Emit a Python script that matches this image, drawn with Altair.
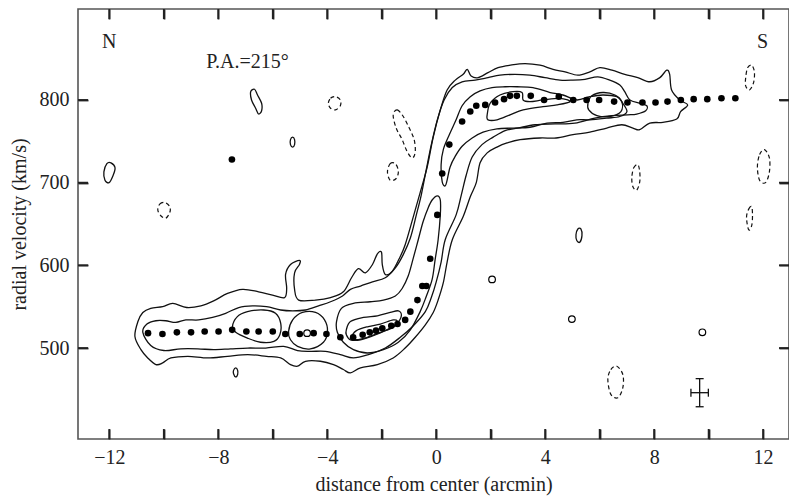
import altair as alt
import pandas as pd

# ---------------- data (arcmin, km/s) ----------------
dot_d = [-10.58, -10.05, -9.52, -9.0, -8.5, -7.99, -7.49, -6.97, -6.52, -6.0, -5.54, -5.01,
         -4.5, -4.03, -3.52, -3.05, -2.70, -2.44, -2.21, -1.98, -1.65, -1.42, -1.14, -0.95,
         -0.69, -0.51, -0.36, -0.22, 0.04, 0.22, 0.48, 0.95, 1.25, 1.47, 1.80, 2.16, 2.49,
         2.71, 2.96, 3.47, 3.96, 4.50, 5.03, 5.52, 5.98, 6.53, 7.02, 7.57, 8.05, 8.49, 8.98,
         9.45, 9.95, 10.47, 10.98, -7.5]
dot_v = [518, 517, 519, 519, 520, 520, 522, 520, 520, 520, 517, 517,
         518, 517, 513, 513, 516, 519, 521, 524, 527, 529, 534, 544,
         558, 575, 575, 608, 661, 711, 746, 774, 786, 793, 794, 797, 801,
         805, 805, 805, 800, 804, 800, 800, 800, 798, 797, 797, 797, 798, 800,
         801, 801, 802, 802, 728]

open_d = [-4.74, 2.05, 4.98, 9.77]
open_v = [518, 583, 535, 519]

err_d = [9.67]
err_v = [446]
err_dlo = [9.35]
err_dhi = [9.99]
err_vlo = [429]
err_vhi = [463]

# outer contour
c1_d = [-11.06, -10.95, -10.77, -10.48, -10.04, -9.67, -9.16, -8.64, -8.17, -7.66, -7.11, -6.52,
        -6.01, -5.57, -5.49, -5.53, -5.35, -5.02, -5.02, -5.20, -5.20, -5.05, -4.43, -3.88,
        -3.41, -3.11, -2.86, -2.60, -2.34, -2.16, -2.01, -1.98, -1.87, -1.61, -1.36, -1.14,
        -0.84, -0.59, -0.33, -0.11, 0.15, 0.40, 0.70, 0.99, 1.14, 1.28, 1.54, 1.90, 2.27,
        2.71, 3.26, 3.81, 4.29, 4.73, 5.20, 5.64, 6.01, 6.45, 6.92, 7.40, 7.84, 8.21, 8.46,
        8.57, 8.64, 8.94, 9.23, 8.97, 8.83, 8.32, 7.84, 7.47, 7.22, 6.81, 6.26, 5.64, 5.02,
        4.40, 3.81, 3.08, 2.60, 2.23, 1.87, 1.61, 1.47, 1.25, 0.99, 0.59, 0.40, 0.26, 0.07,
        -0.11, -0.40, -0.77, -1.14, -1.58, -2.16, -2.78, -3.15, -3.41, -3.77, -4.25, -4.80,
        -5.09, -5.35, -5.71, -6.23, -6.92, -7.66, -8.39, -9.12, -9.74, -10.04, -10.29,
        -10.59, -10.84]
c1_v = [514, 532, 543, 548, 550, 554, 549, 551, 557, 566, 571, 568,
        564, 561, 572, 589, 601, 606, 601, 591, 571, 558, 558, 561,
        568, 585, 596, 591, 601, 614, 616, 601, 589, 593, 608, 625,
        659, 688, 719, 755, 788, 812, 824, 831, 837, 829, 827, 833, 839,
        842, 844, 842, 837, 834, 830, 834, 839, 836, 831, 827, 822, 827, 836,
        831, 812, 800, 794, 786, 777, 773, 772, 764, 766, 770, 766, 761, 758,
        754, 754, 752, 748, 743, 736, 724, 700, 683, 659, 631, 604, 579, 558,
        543, 528, 513, 500, 488, 480, 476, 470, 474, 480, 484, 484,
        478, 480, 488, 490, 492, 490, 488, 490, 488, 482, 480,
        488, 498]

# second contour
c2_d = [-10.77, -10.62, -10.29, -9.93, -9.56, -9.19, -8.72, -8.21, -7.73, -7.25, -6.74, -6.23,
        -5.71, -5.27, -4.80, -4.32, -3.88, -3.44, -3.15, -2.78, -2.34, -1.87, -1.50, -1.21,
        -0.95, -0.73, -0.55, -0.37, -0.18, 0.04, 0.29, 0.59, 0.95, 1.43, 1.90, 2.34, 2.89,
        3.44, 3.99, 4.54, 5.02, 5.46, 5.93, 6.37, 6.74, 6.92, 7.11, 7.47, 7.73, 7.69, 7.36,
        7.03, 6.45, 5.82, 5.09, 4.36, 3.63, 3.00, 2.53, 2.09, 1.68, 1.32, 1.10, 0.92, 0.73,
        0.33, 0.18, 0.0, -0.18, -0.40, -0.84, -1.32, -1.87, -2.49, -3.04, -3.52, -4.07,
        -4.62, -5.09, -5.60, -6.26, -6.92, -7.55, -8.17, -8.75, -9.38, -10.0, -10.48]
c2_v = [519, 529, 533, 533, 531, 534, 534, 537, 542, 549, 551, 550,
        546, 545, 546, 551, 556, 563, 571, 575, 580, 585, 597, 613,
        633, 661, 685, 715, 746, 776, 800, 815, 822, 824, 827, 830, 831,
        830, 827, 824, 824, 825, 828, 824, 818, 810, 800, 796, 793, 787, 783,
        782, 781, 778, 772, 771, 770, 766, 763, 755, 746, 731, 709, 685, 661,
        631, 604, 580, 561, 544, 527, 513, 500, 492, 488, 492, 496,
        496, 497, 502, 500, 500, 499, 498, 499, 499, 497, 503]

# third level: lower part (cluster + rise) and upper arm
c3a_d = [-3.66, -3.48, -3.04, -2.42, -1.94, -1.50, -1.25, -1.03, -0.84, -0.66, -0.48, -0.29,
         -0.15, 0.04, 0.15, 0.15, 0.07, -0.04, -0.15, -0.37, -0.59, -0.95, -1.39, -1.94,
         -2.53, -3.04, -3.41, -3.63]
c3a_v = [532, 548, 554, 556, 558, 563, 572, 587, 609, 631, 653, 670,
         679, 684, 679, 661, 631, 607, 583, 562, 544, 522, 507, 498,
         494, 498, 507, 519]

c3b_d = [0.22, 0.18, 0.26, 0.48, 0.73, 0.95, 1.25, 1.61, 2.05, 2.53, 2.97, 3.55, 4.18, 4.65,
         5.16, 5.64, 6.12, 6.63, 6.85, 7.00, 6.74, 6.26, 5.64, 5.16, 4.65, 4.07, 3.44, 2.82,
         2.23, 1.72, 1.32, 0.95, 0.70, 0.51, 0.40, 0.33]
c3b_v = [701, 722, 740, 758, 776, 793, 804, 811, 815, 816, 816, 815, 809, 806,
         800, 804, 806, 804, 796, 786, 780, 778, 776, 776, 773, 772, 767, 766,
         765, 761, 754, 744, 732, 719, 703, 696]

# left-arm loops
l3a_d = [-7.48, -7.30, -6.93, -6.33, -5.90, -5.71, -5.74, -5.96, -6.45, -6.93, -7.36]
l3a_v = [526, 538, 544, 546, 542, 530, 516, 508, 507, 512, 519]
l3b_d = [-5.42, -5.27, -4.91, -4.43, -4.10, -3.99, -4.14, -4.62, -5.09, -5.35]
l3b_v = [520, 534, 543, 543, 534, 520, 507, 499, 502, 510]

# inner loops
c4a_d = [-3.30, -3.15, -2.67, -2.16, -1.69, -1.39, -1.28, -1.47, -1.87, -2.31, -2.78, -3.15, -3.30]
c4a_v = [522, 532, 537, 539, 543, 545, 539, 529, 521, 515, 510, 510, 516]
c5a_d = [-3.11, -2.93, -2.49, -2.05, -1.58, -1.43, -1.58, -2.05, -2.53, -2.93]
c5a_v = [513, 521, 526, 529, 534, 532, 525, 519, 513, 510]
c4b_d = [1.87, 1.98, 2.34, 2.82, 3.15, 3.19, 3.44, 3.92, 4.54, 4.91, 4.43, 3.92, 3.19, 2.71, 2.23, 1.90]
c4b_v = [782, 796, 806, 810, 809, 800, 798, 800, 802, 798, 794, 792, 788, 782, 776, 776]
c4c_d = [5.57, 5.71, 6.12, 6.56, 6.81, 6.78, 6.37, 5.90, 5.60]
c4c_v = [796, 805, 809, 806, 798, 786, 780, 781, 788]

# small isolated solid contours
s1_d = [-12.20, -12.09, -11.94, -11.79, -11.87, -12.01, -12.16]
s1_v = [713, 723, 724, 718, 708, 700, 703]
s2_d = [-6.81, -6.67, -6.56, -6.41, -6.41, -6.52, -6.63, -6.78]
s2_v = [810, 813, 806, 796, 787, 783, 790, 800]
s3_d = [-5.35, -5.27, -5.20, -5.20, -5.27, -5.35]
s3_v = [752, 755, 752, 746, 743, 746]
s4_d = [-7.44, -7.36, -7.29, -7.29, -7.36, -7.44]
s4_v = [473, 476, 473, 468, 465, 469]
s5_d = [5.13, 5.20, 5.31, 5.35, 5.27, 5.16]
s5_v = [637, 644, 644, 636, 628, 630]

# dashed (negative) contours
n1_d = [-10.22, -10.15, -9.96, -9.78, -9.78, -9.93, -10.11]
n1_v = [667, 674, 676, 671, 664, 657, 660]
n2_d = [-3.96, -3.88, -3.70, -3.52, -3.52, -3.70, -3.88]
n2_v = [796, 802, 804, 800, 793, 788, 790]
n3_d = [-1.58, -1.43, -1.21, -0.99, -0.81, -0.77, -0.88, -1.06, -1.25, -1.47]
n3_v = [782, 788, 780, 766, 752, 737, 730, 737, 752, 766]
n4_d = [-1.79, -1.69, -1.50, -1.39, -1.47, -1.69]
n4_v = [713, 723, 723, 714, 705, 703]
n5_d = [11.36, 11.43, 11.58, 11.68, 11.65, 11.50, 11.36]
n5_v = [827, 839, 842, 834, 821, 812, 817]
n6_d = [11.79, 11.87, 12.05, 12.23, 12.23, 12.09, 11.87]
n6_v = [719, 734, 740, 730, 713, 700, 703]
n7_d = [11.39, 11.47, 11.58, 11.61, 11.58, 11.47]
n7_v = [658, 668, 671, 660, 648, 643]
n8_d = [7.18, 7.25, 7.40, 7.47, 7.47, 7.36, 7.22]
n8_v = [706, 718, 722, 713, 701, 691, 695]
n9_d = [6.30, 6.41, 6.63, 6.85, 6.85, 6.67, 6.41]
n9_v = [462, 474, 478, 468, 452, 440, 444]

label_text = ["N", "S", "P.A.=215°"]
label_d = [-12.0, 11.98, -6.93]
label_v = [870, 870, 846]

x_ticks = [-12, -10, -8, -6, -4, -2, 0, 2, 4, 6, 8, 10, 12]
y_ticks = [500, 600, 700, 800]

# ---------------- layout / scales ----------------
W, H = 711, 430
TL = 10  # inward tick length in pixels
FONT = "Liberation Serif"
X_DOM = [-13.15, 12.95]
Y_DOM = [390, 910]
xs = alt.Scale(domain=X_DOM, nice=False, zero=False)
ys = alt.Scale(domain=Y_DOM, nice=False, zero=False)

dx_tick = TL * (X_DOM[1] - X_DOM[0]) / W
dy_tick = TL * (Y_DOM[1] - Y_DOM[0]) / H

# ---------------- build tables ----------------
def build(groups):
    rows = []
    for gid, (ds, vs) in enumerate(groups):
        for i, (d, v) in enumerate(zip(ds, vs)):
            rows.append({"d": d, "v": v, "g": gid, "i": i})
    return pd.DataFrame(rows)

solid = build([(c1_d, c1_v), (c2_d, c2_v), (c3a_d, c3a_v), (c3b_d, c3b_v),
               (l3a_d, l3a_v), (l3b_d, l3b_v), (c4a_d, c4a_v), (c5a_d, c5a_v),
               (c4b_d, c4b_v), (c4c_d, c4c_v), (s1_d, s1_v), (s2_d, s2_v),
               (s3_d, s3_v), (s4_d, s4_v), (s5_d, s5_v)])
dashed = build([(n1_d, n1_v), (n2_d, n2_v), (n3_d, n3_v), (n4_d, n4_v), (n5_d, n5_v),
                (n6_d, n6_v), (n7_d, n7_v), (n8_d, n8_v), (n9_d, n9_v)])
dots = pd.DataFrame({"d": dot_d, "v": dot_v})
opens = pd.DataFrame({"d": open_d, "v": open_v})
caps_h = pd.DataFrame({"d": err_d * 2, "v": err_vlo + err_vhi})
caps_v = pd.DataFrame({"d": err_dlo + err_dhi, "v": err_v * 2})
labels = pd.DataFrame({"lab": label_text, "d": label_d, "v": label_v})

seg_rows = [
    {"d": err_d[0], "d2": err_d[0], "v": err_vlo[0], "v2": err_vhi[0]},
    {"d": err_dlo[0], "d2": err_dhi[0], "v": err_v[0], "v2": err_v[0]},
]
segs = pd.DataFrame(seg_rows)

tick_rows = []
for t in x_ticks:
    tick_rows.append({"d": t, "d2": t, "v": Y_DOM[0], "v2": Y_DOM[0] + dy_tick})
    tick_rows.append({"d": t, "d2": t, "v": Y_DOM[1] - dy_tick, "v2": Y_DOM[1]})
for t in y_ticks:
    tick_rows.append({"d": X_DOM[0], "d2": X_DOM[0] + dx_tick, "v": t, "v2": t})
    tick_rows.append({"d": X_DOM[1] - dx_tick, "d2": X_DOM[1], "v": t, "v2": t})
ticks_df = pd.DataFrame(tick_rows)

TICK_COLOR = "#222"
TICK_W = 1.8

main_x = alt.Axis(orient="bottom", offset=-TL, values=x_ticks,
                  labelExpr="datum.value % 4 === 0 ? datum.label : ''",
                  ticks=True, tickSize=TL, tickColor=TICK_COLOR, tickWidth=TICK_W,
                  domain=False, grid=False,
                  labelFont=FONT, labelFontSize=20, labelColor="#222", labelPadding=8,
                  title="distance from center (arcmin)", titleFont=FONT, titleFontSize=20,
                  titleFontWeight="normal", titleColor="#222", titlePadding=7)
main_y = alt.Axis(orient="left", offset=-TL, values=y_ticks,
                  ticks=True, tickSize=TL, tickColor=TICK_COLOR, tickWidth=TICK_W,
                  domain=False, grid=False,
                  labelFont=FONT, labelFontSize=20, labelColor="#222", labelPadding=9,
                  title="radial velocity (km/s)", titleFont=FONT, titleFontSize=20,
                  titleFontWeight="normal", titleColor="#222", titlePadding=10)
top_x = alt.Axis(orient="top", offset=-TL, values=x_ticks, labels=False, domain=False,
                 grid=False, ticks=True, tickSize=TL, tickColor=TICK_COLOR,
                 tickWidth=TICK_W, title=None)
right_y = alt.Axis(orient="right", offset=-TL, values=y_ticks, labels=False, domain=False,
                   grid=False, ticks=True, tickSize=TL, tickColor=TICK_COLOR,
                   tickWidth=TICK_W, title=None)

line_solid = alt.Chart(solid).mark_line(interpolate="cardinal-closed", color="#111",
                                        strokeWidth=1.3).encode(
    x=alt.X("d:Q", scale=xs, axis=main_x),
    y=alt.Y("v:Q", scale=ys, axis=main_y),
    detail="g:N",
    order="i:Q",
)

line_dashed = alt.Chart(dashed).mark_line(interpolate="cardinal-closed", color="#111",
                                          strokeWidth=1.2, strokeDash=[4, 3]).encode(
    x=alt.X("d:Q", scale=xs, axis=top_x),
    y=alt.Y("v:Q", scale=ys, axis=right_y),
    detail="g:N",
    order="i:Q",
)

frame_ticks = alt.Chart(ticks_df).mark_rule(color=TICK_COLOR, strokeWidth=TICK_W).encode(
    x=alt.X("d:Q", scale=xs, axis=None),
    x2="d2:Q",
    y=alt.Y("v:Q", scale=ys, axis=None),
    y2="v2:Q",
)

pts = alt.Chart(dots).mark_circle(size=44, color="#000", opacity=1).encode(
    x=alt.X("d:Q", scale=xs, axis=None),
    y=alt.Y("v:Q", scale=ys, axis=None),
)

open_pts = alt.Chart(opens).mark_point(size=44, shape="circle", filled=True, fill="white",
                                       stroke="#000", strokeWidth=1.2, opacity=1).encode(
    x=alt.X("d:Q", scale=xs, axis=None),
    y=alt.Y("v:Q", scale=ys, axis=None),
)

seg_layer = alt.Chart(segs).mark_rule(color="#111", strokeWidth=1.3).encode(
    x=alt.X("d:Q", scale=xs, axis=None),
    x2="d2:Q",
    y=alt.Y("v:Q", scale=ys, axis=None),
    y2="v2:Q",
)

cap_h = alt.Chart(caps_h).mark_tick(orient="horizontal", size=8, thickness=1.3, color="#111",
                                    opacity=1).encode(
    x=alt.X("d:Q", scale=xs, axis=None),
    y=alt.Y("v:Q", scale=ys, axis=None),
)
cap_v = alt.Chart(caps_v).mark_tick(orient="vertical", size=8, thickness=1.3, color="#111",
                                    opacity=1).encode(
    x=alt.X("d:Q", scale=xs, axis=None),
    y=alt.Y("v:Q", scale=ys, axis=None),
)

txt = alt.Chart(labels).mark_text(font=FONT, fontSize=20, color="#222").encode(
    x=alt.X("d:Q", scale=xs, axis=None),
    y=alt.Y("v:Q", scale=ys, axis=None),
    text="lab:N",
)

chart = alt.layer(
    line_solid, line_dashed, frame_ticks, pts, open_pts, seg_layer, cap_h, cap_v, txt
).resolve_axis(x="independent", y="independent").properties(
    width=W, height=H,
    autosize=alt.AutoSizeParams(type="none"),
    padding={"left": 78, "top": 9, "right": 0, "bottom": 60},
).configure_view(stroke="#555", strokeWidth=1.6)

chart.save("out.html", embed_options={"renderer": "svg", "actions": False})
